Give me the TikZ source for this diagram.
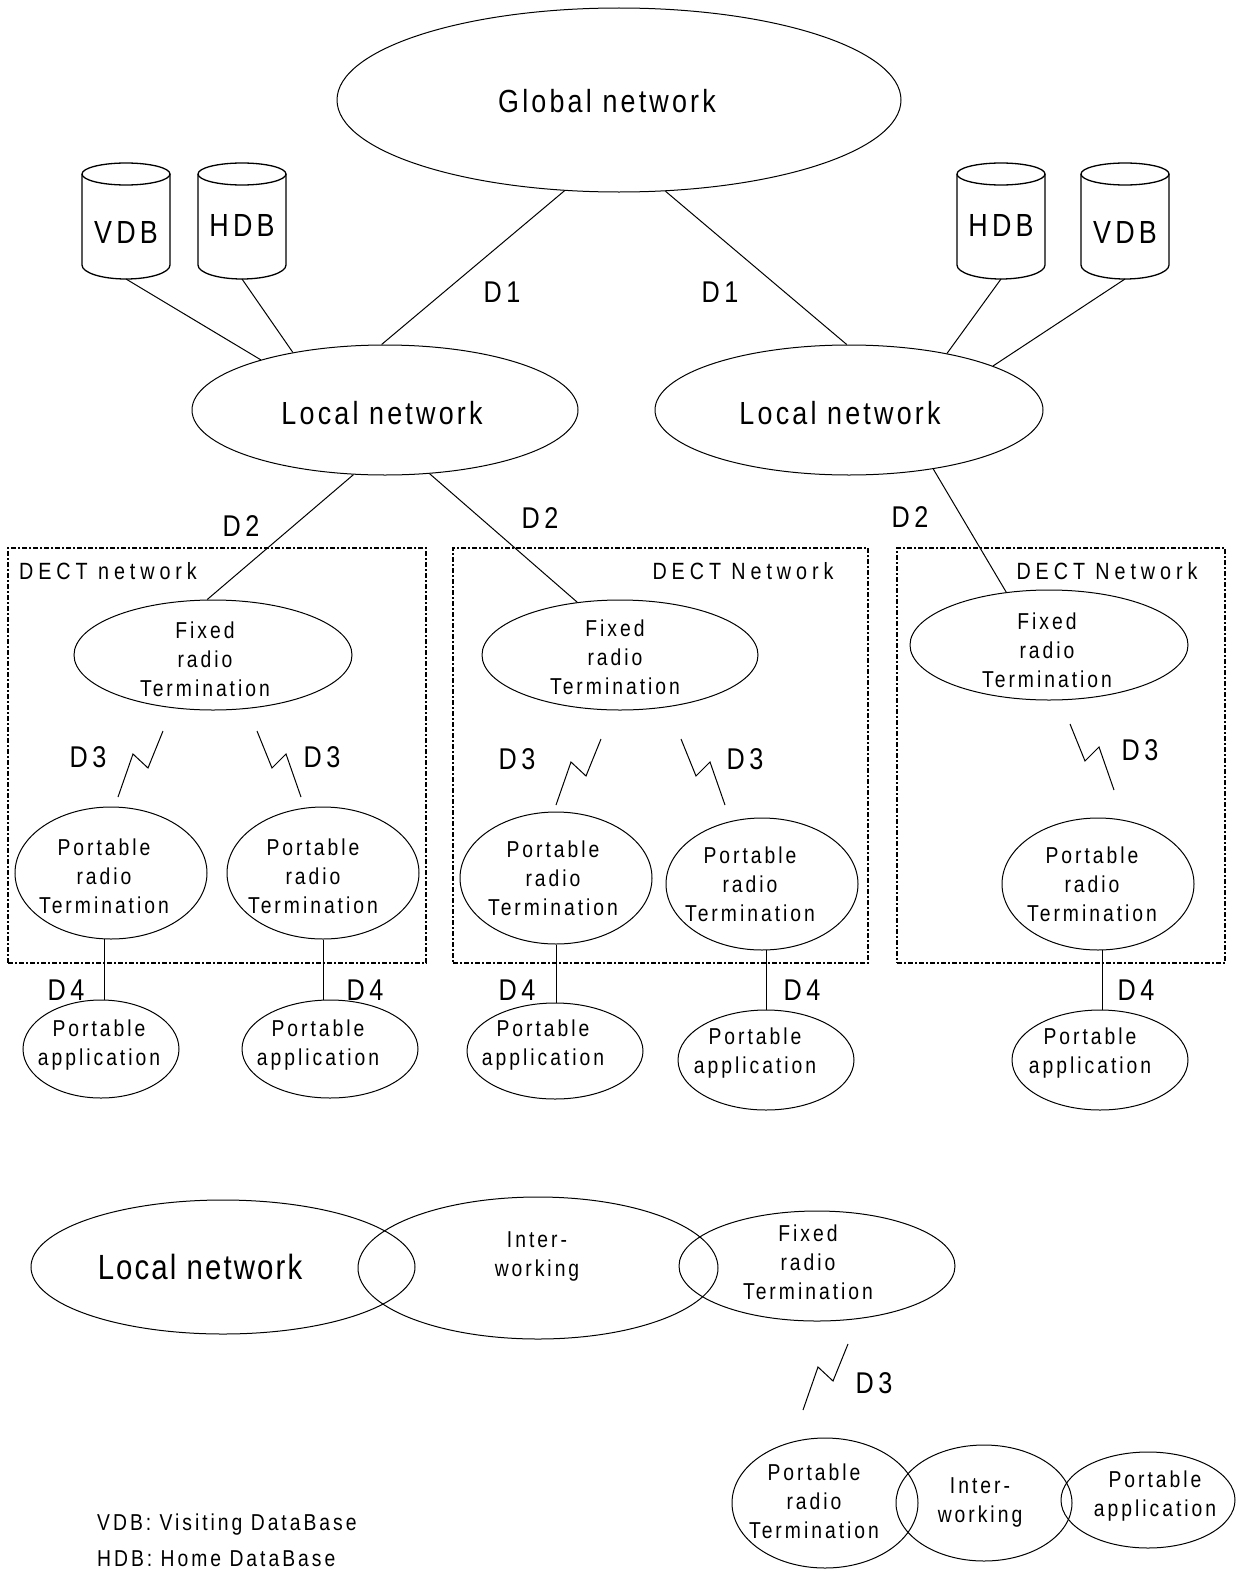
\documentclass[tikz,border=0pt]{standalone}
\usepackage{fontspec}
\setmainfont{Liberation Sans}[FakeStretch=0.84,LetterSpace=10]
\usetikzlibrary{shapes.geometric}
\tikzset{
  ell/.style={ellipse, draw, line width=1pt, inner sep=0pt},
  conn/.style={line width=1pt},
  boltline/.style={line width=1pt, line join=miter},
  dectbox/.style={draw, dash pattern=on 5pt off 2pt on 2pt off 2pt, line width=1.4pt, inner sep=0pt},
  tbig/.style={font=\fontsize{32}{36}\selectfont\addfontfeature{LetterSpace=10}, inner sep=0pt},
  tlab/.style={font=\fontsize{30}{34}\selectfont\addfontfeature{LetterSpace=15}, inner sep=0pt},
  tdb/.style={font=\fontsize{32}{36}\selectfont\addfontfeature{LetterSpace=13}, inner sep=0pt},
  tsm/.style={font=\fontsize{23}{29}\selectfont\addfontfeature{LetterSpace=13}, align=center, inner sep=0pt},
  tbox/.style={font=\fontsize{23.5}{28}\selectfont\addfontfeature{LetterSpace=21}, inner sep=0pt},
  tbot/.style={font=\fontsize{35}{40}\selectfont\addfontfeature{LetterSpace=6}, inner sep=0pt},
}
\newcommand\myell[5]{\node[ell, minimum width=#4pt, minimum height=#5pt] (#1) at (#2,#3) {};}
\newcommand\mycyl[4]{% name, cx, label, label y
  \draw[line width=1.3pt] (#2,174) ellipse [x radius=44, y radius=11];
  \draw[line width=1.3pt] (#2-44,174) -- (#2-44,265) arc[start angle=180, end angle=0, x radius=44, y radius=14] -- (#2+44,174);
  \node[tdb] (#1) at (#2,#4) {#3};
  \coordinate (#1b) at (#2,279);
}
\newcommand\boltp[2]{\draw[boltline] (#1,#2) -- ++(15,-43) -- ++(15,14) -- ++(15,-37);}
\newcommand\boltm[2]{\draw[boltline] (#1,#2) -- ++(-15,-43) -- ++(-14,14) -- ++(-15,-37);}
\begin{document}
\begin{tikzpicture}[x=1pt,y=-1pt]
\useasboundingbox (0,0) rectangle (1250,1571);
% top level
\myell{global}{619}{100}{564}{184}
\node[tbig] (globalt) at (607,101) {Global network};
\myell{localL}{385}{410}{386}{130}
\node[tbig] (localLt) at (382,413) {Local network};
\myell{localR}{849}{410}{388}{130}
\node[tbig] (localRt) at (840,413) {Local network};
% databases
\mycyl{vdbL}{126}{VDB}{232}
\mycyl{hdbL}{242}{HDB}{225}
\mycyl{hdbR}{1001}{HDB}{225}
\mycyl{vdbR}{1125}{VDB}{232}
\draw[conn] (vdbLb) -- (localL.158.5);
\draw[conn] (hdbLb) -- (localL.148);
\draw[conn] (hdbRb) -- (localR.30);
\draw[conn] (vdbRb) -- (localR.17);
% D1
\draw[conn] (global.239) -- (localL.93);
\draw[conn] (global.297) -- (localR.92);
\node[tlab] (d1a) at (502,292) {D1};
\node[tlab] (d1b) at (720,292) {D1};
% DECT boxes
\node[dectbox, minimum width=418pt, minimum height=415pt] (boxA) at (217,755.5) {};
\node[dectbox, minimum width=415pt, minimum height=415pt] (boxB) at (660.5,755.5) {};
\node[dectbox, minimum width=328pt, minimum height=415pt] (boxC) at (1061,755.5) {};
\node[tbox] (boxAt) at (108,571) {DECT network};
\node[tbox] (boxBt) at (743,571) {DECT Network};
\node[tbox] (boxCt) at (1107,571) {DECT Network};
% fixed radio terminations
\myell{frtA}{213}{655}{278}{110}
\node[tsm] (frtAt) at (205,659) {Fixed\\radio\\Termination};
\myell{frtB}{620}{655}{276}{110}
\node[tsm] (frtBt) at (615,657) {Fixed\\radio\\Termination};
\myell{frtC}{1049}{645}{278}{110}
\node[tsm] (frtCt) at (1047,650) {Fixed\\radio\\Termination};
% D2
\draw[conn] (localL.244) -- (frtA.96);
\draw[conn] (localL.305.5) -- (frtB.129);
\draw[conn] (localR.325) -- (frtC.129);
\node[tlab] (d2a) at (241,526) {D2};
\node[tlab] (d2b) at (540,518) {D2};
\node[tlab] (d2c) at (910,517) {D2};
% D3 bolts
\boltp{118}{797}
\boltm{301}{797}
\boltp{556}{805}
\boltm{725}{805}
\boltm{1114}{790}
\boltp{803}{1410}
\node[tlab] (d3a) at (88,757) {D3};
\node[tlab] (d3b) at (322,757) {D3};
\node[tlab] (d3c) at (517,759) {D3};
\node[tlab] (d3d) at (745,759) {D3};
\node[tlab] (d3e) at (1140,750) {D3};
\node[tlab] (d3f) at (874,1383) {D3};
% portable radio terminations
\myell{prtA}{111}{873}{192}{132}
\node[tsm] (prtAt) at (104,876) {Portable\\radio\\Termination};
\myell{prtB}{323}{873}{192}{132}
\node[tsm] (prtBt) at (313,876) {Portable\\radio\\Termination};
\myell{prtC}{556}{878}{192}{132}
\node[tsm] (prtCt) at (553,878) {Portable\\radio\\Termination};
\myell{prtD}{762}{884}{192}{132}
\node[tsm] (prtDt) at (750,884) {Portable\\radio\\Termination};
\myell{prtE}{1098}{884}{192}{132}
\node[tsm] (prtEt) at (1092,884) {Portable\\radio\\Termination};
% portable applications
\myell{paA}{101}{1049}{156}{98}
\node[tsm] (paAt) at (99,1045) {Portable\\application};
\myell{paB}{330}{1049}{176}{98}
\node[tsm] (paBt) at (318,1045) {Portable\\application};
\myell{paC}{555}{1051}{176}{96}
\node[tsm] (paCt) at (543,1045) {Portable\\application};
\myell{paD}{766}{1060}{176}{100}
\node[tsm] (paDt) at (755,1053) {Portable\\application};
\myell{paE}{1100}{1060}{176}{100}
\node[tsm] (paEt) at (1090,1053) {Portable\\application};
% D4
\draw[conn] (prtA.264) -- (prtA.264 |- paA.north);
\draw[conn] (prtB.270) -- (prtB.270 |- paB.north);
\draw[conn] (prtC.270) -- (prtC.270 |- paC.north);
\draw[conn] (prtD.274) -- (prtD.274 |- paD.north);
\draw[conn] (prtE.274) -- (prtE.274 |- paE.north);
\node[tlab] (d4a) at (66,990) {D4};
\node[tlab] (d4b) at (365,990) {D4};
\node[tlab] (d4c) at (517,990) {D4};
\node[tlab] (d4d) at (802,990) {D4};
\node[tlab] (d4e) at (1136,990) {D4};
% bottom: fixed side
\myell{locB}{223}{1267}{384}{134}
\node[tbot] (locBt) at (200,1267) {Local network};
\myell{intB}{538}{1268}{360}{142}
\node[tsm] (intBt) at (537,1256) {Inter-\\working};
\myell{frtD}{817}{1266}{276}{110}
\node[tsm] (frtDt) at (808,1262) {Fixed\\radio\\Termination};
% bottom: portable side
\myell{prtF}{825}{1503}{186}{130}
\node[tsm] (prtFt) at (814,1501) {Portable\\radio\\Termination};
\myell{intC}{984}{1503}{176}{116}
\node[tsm] (intCt) at (980,1502) {Inter-\\working};
\myell{paF}{1148}{1500}{174}{96}
\node[tsm] (paFt) at (1155,1496) {Portable\\application};
% legend
\node[tsm, anchor=west] (leg1) at (97,1525) {VDB: Visiting DataBase};
\node[tsm, anchor=west] (leg2) at (97,1559) {HDB: Home DataBase};
\end{tikzpicture}
\end{document}
